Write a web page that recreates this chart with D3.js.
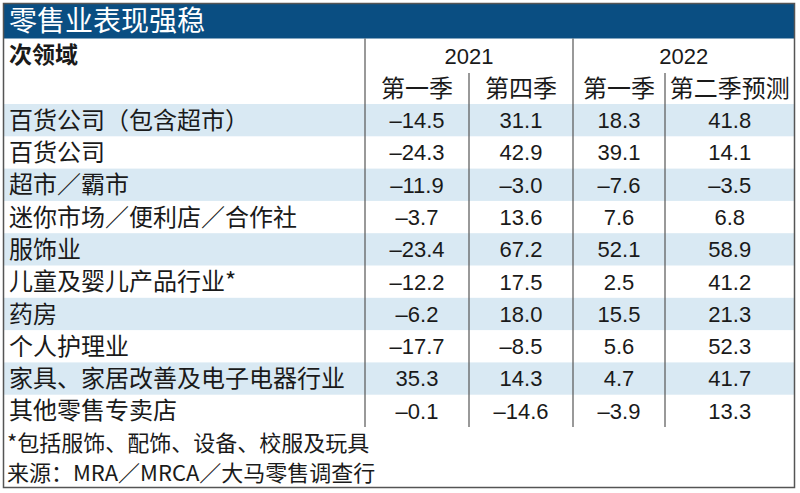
<!DOCTYPE html>
<html>
<head>
<meta charset="utf-8">
<script src="https://cdn.jsdelivr.net/npm/d3@7"></script>
<style>
  body { margin: 0; background: #fff; }
  svg { display: block; }
  text { font-family: "Liberation Sans", "Noto Sans CJK SC", sans-serif; fill: #1a1a1a; }
  .cjk { font-family: "Noto Sans CJK SC", sans-serif; }
</style>
</head>
<body>
<svg id="chart" width="800" height="493"></svg>
<script>
// ---- data ----
const title = "零售业表现强稳";
const headLabel = "次领域";
const years = ["2021", "2022"];
const quarters = ["第一季", "第四季", "第一季", "第二季预测"];
const categories = [
  "百货公司（包含超市）", "百货公司", "超市／霸市", "迷你市场／便利店／合作社",
  "服饰业", "儿童及婴儿产品行业*", "药房", "个人护理业",
  "家具、家居改善及电子电器行业", "其他零售专卖店"
];
const q1_2021 = [-14.5, -24.3, -11.9, -3.7, -23.4, -12.2, -6.2, -17.7, 35.3, -0.1];
const q4_2021 = [31.1, 42.9, -3.0, 13.6, 67.2, 17.5, 18.0, -8.5, 14.3, -14.6];
const q1_2022 = [18.3, 39.1, -7.6, 7.6, 52.1, 2.5, 15.5, 5.6, 4.7, -3.9];
const q2_2022f = [41.8, 14.1, -3.5, 6.8, 58.9, 41.2, 21.3, 52.3, 41.7, 13.3];
const notes = ["*包括服饰、配饰、设备、校服及玩具", "来源：MRA／MRCA／大马零售调查行"];

// ---- layout ----
const svg = d3.select("#chart");
const box = {left: 3.5, right: 794.5, top: 3.5, bottom: 487.5};
const titleH = 35;
const colEdges = [365, 469, 573, 665, 794.5];   // table column boundaries
const rowTop = 104, rowBottom = 427;

const series = [q1_2021, q4_2021, q1_2022, q2_2022f];

const yScale = d3.scaleBand()
    .domain(categories)
    .range([rowTop, rowBottom]);

const colScale = d3.scaleOrdinal()
    .domain(d3.range(series.length))
    .range(d3.range(series.length).map(i => (colEdges[i] + colEdges[i + 1]) / 2));

const fmt = v => (v < 0 ? "\u2013" : "") + d3.format(".1f")(Math.abs(v));

// row stripes
svg.append("g").selectAll("rect")
    .data(categories.filter((d, i) => i % 2 === 0))
    .join("rect")
    .attr("x", box.left)
    .attr("y", d => yScale(d))
    .attr("width", box.right - box.left)
    .attr("height", yScale.bandwidth())
    .attr("fill", "#d9e9f3");

// title bar
svg.append("rect")
    .attr("x", box.left).attr("y", box.top)
    .attr("width", box.right - box.left).attr("height", titleH)
    .attr("fill", "#0a4e82");

svg.append("text")
    .attr("class", "cjk")
    .attr("x", 9).attr("y", box.top + titleH / 2)
    .attr("dy", "0.36em")
    .attr("font-size", 28)
    .style("fill", "#fff")
    .text(title);

// vertical grid lines
const lines = svg.append("g").attr("stroke", "#555").attr("stroke-width", 1.2);
[colEdges[0], colEdges[2]].forEach(x => {
  lines.append("line")
      .attr("x1", x).attr("x2", x)
      .attr("y1", box.top + titleH).attr("y2", rowBottom);
});
[colEdges[1], colEdges[3]].forEach(x => {
  lines.append("line")
      .attr("x1", x).attr("x2", x)
      .attr("y1", 73).attr("y2", rowBottom);
});

// outer border
svg.append("rect")
    .attr("x", box.left).attr("y", box.top)
    .attr("width", box.right - box.left).attr("height", box.bottom - box.top)
    .attr("fill", "none")
    .attr("stroke", "#555")
    .attr("stroke-width", 1.5);

// header
svg.append("text")
    .attr("class", "cjk")
    .attr("x", 9).attr("y", 55)
    .attr("dy", "0.36em")
    .attr("font-size", 23)
    .attr("font-weight", 700)
    .text(headLabel);

svg.append("g").selectAll("text")
    .data(years)
    .join("text")
    .attr("x", (d, i) => (colEdges[i * 2] + colEdges[i * 2 + 2]) / 2)
    .attr("y", 56)
    .attr("dy", "0.36em")
    .attr("text-anchor", "middle")
    .attr("font-size", 22)
    .text(d => d);

svg.append("g").selectAll("text")
    .data(quarters)
    .join("text")
    .attr("class", "cjk")
    .attr("x", (d, i) => colScale(i))
    .attr("y", 88)
    .attr("dy", "0.36em")
    .attr("text-anchor", "middle")
    .attr("font-size", 24)
    .text(d => d);

// row labels
svg.append("g").selectAll("text")
    .data(categories)
    .join("text")
    .attr("class", "cjk")
    .attr("x", 9)
    .attr("y", d => yScale(d) + yScale.bandwidth() / 2)
    .attr("dy", "0.36em")
    .attr("font-size", 24)
    .text(d => d);

// values
series.forEach((vals, si) => {
  svg.append("g").selectAll("text")
      .data(vals)
      .join("text")
      .attr("x", colScale(si))
      .attr("y", (d, i) => yScale(categories[i]) + yScale.bandwidth() / 2)
      .attr("dy", "0.36em")
      .attr("text-anchor", "middle")
      .attr("font-size", 22)
      .text(d => fmt(d));
});

// footnotes
svg.append("g").selectAll("text")
    .data(notes)
    .join("text")
    .attr("class", "cjk")
    .attr("x", 7)
    .attr("y", (d, i) => 443 + i * 30)
    .attr("dy", "0.36em")
    .attr("font-size", 22)
    .text(d => d);
</script>
</body>
</html>
